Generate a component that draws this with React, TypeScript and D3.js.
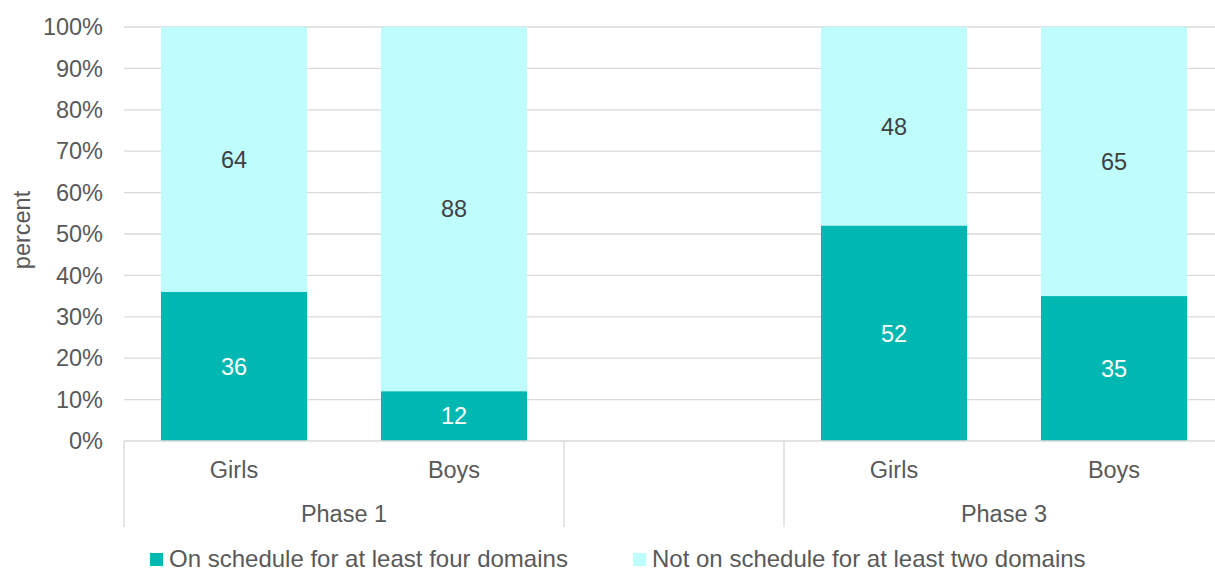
import React from "react";
import * as d3 from "d3";

const slots = ["P1-Girls", "P1-Boys", "gap", "P3-Girls", "P3-Boys"];
const catLabels = ["Girls", "Boys", "", "Girls", "Boys"];
const onSchedule = [36, 12, null, 52, 35];
const notOnSchedule = [64, 88, null, 48, 65];
const yTicks = [0, 10, 20, 30, 40, 50, 60, 70, 80, 90, 100];
const phases = [
  { label: "Phase 1", from: 0, to: 2 },
  { label: "Phase 3", from: 3, to: 5 },
];
const legendItems = ["On schedule for at least four domains", "Not on schedule for at least two domains"];

const TEAL = "#00B7B2";
const LIGHT = "#BFFDFD";
const GRID = "#D9D9D9";
const TXT = "#595959";
const FONT = "'Liberation Sans', Arial, sans-serif";
const FS = 23.5;

export default function App() {
  const W = 1215, H = 572;
  const left = 124, right = 1224, top = 27, bottom = 441;
  const x = d3.scaleBand<number>().domain(d3.range(slots.length)).range([left, right]).paddingInner(0.336).paddingOuter(0.168);
  const step = x.step();
  const y = d3.scaleLinear().domain([0, 100]).range([bottom, top]);
  const slotEdge = (i: number) => left + i * step;

  return (
    <svg width={W} height={H} style={{ position: "absolute", left: 0, top: 0, fontFamily: FONT }}>
      <rect width={W} height={H} fill="#fff" />
      {yTicks.map((t) => (
        <g key={t}>
          {t > 0 && <line x1={left} x2={W} y1={y(t)} y2={y(t)} stroke={GRID} strokeWidth={1.3} />}
          <text x={103} y={y(t)} dy="0.35em" textAnchor="end" fontSize={FS} fill={TXT}>{t}%</text>
        </g>
      ))}
      {slots.map((s, i) => {
        const a = onSchedule[i], b = notOnSchedule[i];
        if (a == null || b == null) return null;
        const x0 = x(i)!, bw = x.bandwidth();
        return (
          <g key={s}>
            <rect x={x0} width={bw} y={y(a + b)} height={y(a) - y(a + b)} fill={LIGHT} />
            <rect x={x0} width={bw} y={y(a)} height={y(0) - y(a)} fill={TEAL} />
            <text x={x0 + bw / 2} y={(y(0) + y(a)) / 2} dy="0.35em" textAnchor="middle" fontSize={FS} fill="#fff">{a}</text>
            <text x={x0 + bw / 2} y={(y(a) + y(a + b)) / 2} dy="0.35em" textAnchor="middle" fontSize={FS} fill="#404040">{b}</text>
          </g>
        );
      })}
      <line x1={left} x2={W} y1={bottom} y2={bottom} stroke={GRID} strokeWidth={1.3} />
      {[0, 2, 3, 5].map((i) => (
        <line key={i} x1={slotEdge(i)} x2={slotEdge(i)} y1={bottom} y2={527} stroke={GRID} strokeWidth={1.3} />
      ))}
      {catLabels.map((c, i) => (
        <text key={i} x={x(i)! + x.bandwidth() / 2} y={470} dy="0.35em" textAnchor="middle" fontSize={FS} fill={TXT}>{c}</text>
      ))}
      {phases.map((p) => (
        <text key={p.label} x={(slotEdge(p.from) + slotEdge(p.to)) / 2} y={514} dy="0.35em" textAnchor="middle" fontSize={FS} fill={TXT}>{p.label}</text>
      ))}
      <text transform={`translate(22,230) rotate(-90)`} dy="0.35em" textAnchor="middle" fontSize={FS} fill={TXT}>percent</text>
      {legendItems.map((l, i) => {
        const lx = i === 0 ? 150 : 633;
        return (
          <g key={l}>
            <rect x={lx} y={553} width={13} height={13} fill={i === 0 ? TEAL : LIGHT} />
            <text x={lx + 19} y={566.5} fontSize={24} fill={TXT}>{l}</text>
          </g>
        );
      })}
    </svg>
  );
}
